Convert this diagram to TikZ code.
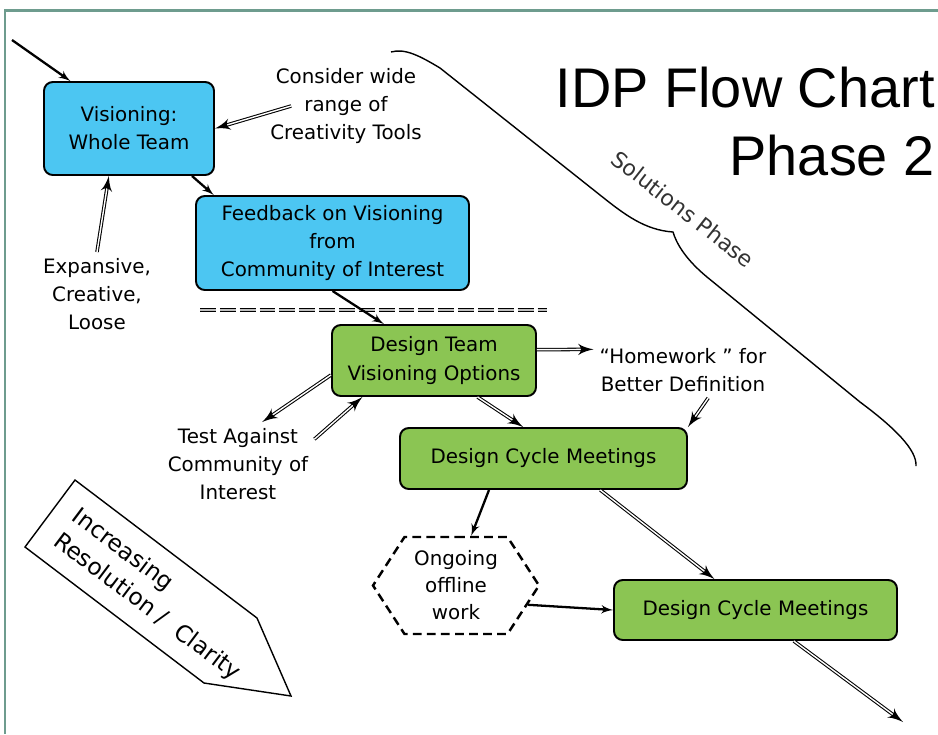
\documentclass[tikz,border=0pt]{standalone}
\usepackage{fontspec}
\setmainfont{DejaVu Sans}
\newfontfamily\titlefont{Liberation Sans}
\usepackage{tikz}
\usetikzlibrary{shapes,arrows}
\definecolor{visblue}{HTML}{4CC6F2}
\definecolor{designgreen}{HTML}{8BC553}
\definecolor{framegreen}{HTML}{6E9C8E}
\tikzstyle{block} = [rectangle, draw, line width=1.1pt, rounded corners=5pt, align=center,
font=\fontsize{11.3}{16}\selectfont]
\tikzstyle{blueblock} = [block, fill=visblue]
\tikzstyle{greenblock} = [block, fill=designgreen]
\tikzstyle{note} = [align=center, font=\fontsize{11.3}{16}\selectfont]
\tikzstyle{offline} = [signal, signal to=east and west, signal pointer angle=114, draw, line width=1.4pt,
dash pattern=on 5pt off 3pt, align=center, font=\fontsize{11.3}{15.4}\selectfont]
\tikzstyle{titletext} = [anchor=base east, inner sep=0pt, font=\titlefont\fontsize{31.8}{38}\selectfont]
\tikzstyle{line} = [draw, -latex', line width=1.3pt]
\tikzstyle{dline} = [draw, -latex', double, line width=0.6pt, double distance=0.8pt]

\begin{document}
\begin{tikzpicture}[node distance=2cm, auto]
		\useasboundingbox (0,0) rectangle (18.76,-14.68);
		\draw [framegreen, line width=1.7pt] (0.1,-14.68) -- (0.1,-0.2) -- (18.76,-0.2);
		\node [blueblock, minimum width=3.4cm, minimum height=1.86cm] (vis) at (2.58,-2.57) {Visioning:\\Whole Team};
		\node [blueblock, below of=vis, node distance=2.29cm, xshift=4.07cm, minimum width=5.46cm, minimum height=1.88cm] (fb)
		{Feedback on Visioning\\from\\Community of Interest};
		\node [greenblock, below of=fb, node distance=2.35cm, xshift=2.03cm, minimum width=4.08cm, minimum height=1.42cm] (dt)
		{Design Team\\Visioning Options};
		\node [greenblock, below of=dt, node distance=1.96cm, xshift=2.19cm, minimum width=5.74cm, minimum height=1.22cm] (dcm1)
		{Design Cycle Meetings};
		\node [offline, below of=dcm1, node distance=2.54cm, xshift=-1.75cm, minimum width=3.32cm, minimum height=1.94cm] (hex)
		{Ongoing\\offline\\work};
		\node [greenblock, right of=hex, node distance=5.99cm, yshift=-0.49cm, minimum width=5.66cm, minimum height=1.2cm] (dcm2)
		{Design Cycle Meetings};
		\node [note, right of=vis, node distance=4.34cm, yshift=0.45cm] (cons) {Consider wide\\range of\\Creativity Tools};
		\node [note, below of=vis, node distance=3.31cm, xshift=-0.64cm] (exp) {Expansive,\\Creative,\\Loose};
		\node [note, right of=dt, node distance=4.98cm, yshift=-0.19cm] (hw) {“Homework ” for\\Better Definition};
		\node [note, left of=dt, node distance=3.92cm, yshift=-2.07cm] (test) {Test Against\\Community of\\Interest};
		\node [titletext] (title) at (18.7,-2.14) {IDP Flow Chart};
		\node [titletext] (phase) at (18.7,-3.5) {Phase 2};
		\node [rotate=-38, text=black!80, font=\fontsize{12.5}{15}\selectfont] (solphase) at (13.66,-4.18) {Solutions Phase};
		% resolution arrow
		\draw [line width=0.8pt] (1.5,-9.6) -- (5.14,-12.36) -- (5.82,-13.92) -- (4.08,-13.66) -- (0.5,-10.94) -- cycle;
		\node [rotate=-37, align=left, font=\fontsize{13.2}{17.6}\selectfont] (clarity) at (3.12,-11.90)
		{Increasing\\Resolution /\ \ Clarity};
		% phase brace
		\draw [line width=0.8pt] (7.82,-1.04) .. controls (8.1,-0.96) and (8.4,-1.12) .. (8.8,-1.36) -- (12.0,-3.9)
		.. controls (12.5,-4.3) and (12.9,-4.6) .. (13.46,-4.64) .. controls (13.52,-4.84) and (13.68,-5.16) .. (14.14,-5.54)
		-- (17.2,-8.04) .. controls (17.9,-8.56) and (18.34,-9.0) .. (18.32,-9.32);
		\draw [line width=0.5pt, draw=black, double=black!25, double distance=1.4pt, dash pattern=on 9pt off 2.3pt]
		(4.0,-6.2) -- (10.94,-6.2);
		\coordinate (start) at (0.24,-0.8);
		\coordinate (finish) at (18.06,-14.44);
		\path [line] (start) -- (vis.141);
		\path [dline] ([xshift=0.54cm]cons.west) -- (vis.east);
		\path [dline] (exp.north) -- (vis.-113);
		\path [line] (vis.-37) -- (fb.158);
		\path [line] (fb.south) -- (dt.144);
		\path [dline] (dt.6) -- (hw.167);
		\path [dline] (hw.-48) -- (dcm1.north east);
		\path [dline] (dt.-40) -- (dcm1.123);
		\path [dline] (dt.188) -- (test.60);
		\path [dline] (test.18) -- (dt.207);
		\path [line] (dcm1.-150) -- (hex.73);
		\path [dline] (dcm1.-29) -- (dcm2.143);
		\path [line] (hex.-15) -- (dcm2.west);
		\path [dline] (dcm2.-39) -- (finish);
	\end{tikzpicture}
\end{document}
